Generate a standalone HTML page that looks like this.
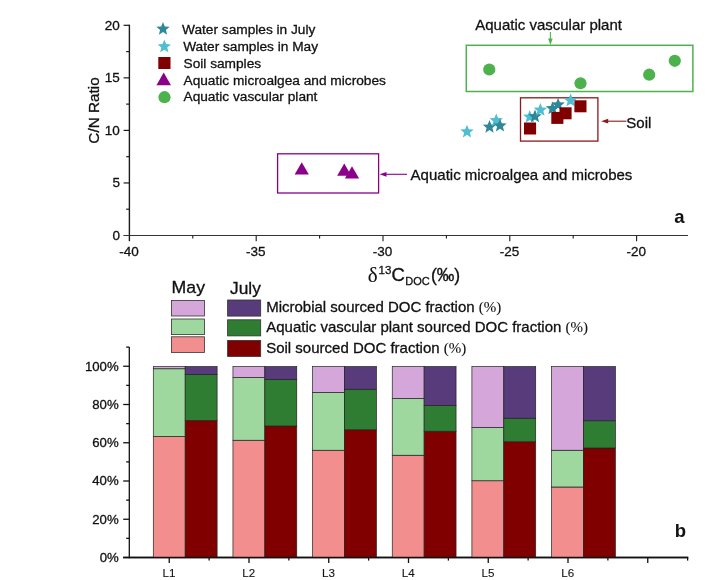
<!DOCTYPE html>
<html lang="en"><head><meta charset="utf-8"><title>Figure</title>
<style>
html,body{margin:0;padding:0;background:#fff;}
body{width:728px;height:580px;overflow:hidden;}
svg{display:block;font-family:"Liberation Sans", Arial, Helvetica, sans-serif;fill:#111;}
text{stroke:#111;stroke-width:0.3px;}
.thin text{stroke-width:0.1px;}
text.ns{stroke:none;}
.ser{font-family:"Liberation Serif", "Times New Roman", serif;stroke-width:0.1px;}
</style></head><body>
<svg width="728" height="580" viewBox="0 0 728 580">
<rect width="728" height="580" fill="#fff"/>
<g stroke="#1a1a1a" fill="none">
<line x1="129.4" y1="24.70" x2="129.4" y2="241.2" stroke-width="1.4"/>
<line x1="123.4" y1="235.5" x2="688" y2="235.5" stroke-width="1.0" stroke="#333"/>
<line x1="123.6" y1="182.95" x2="129.4" y2="182.95" stroke-width="1.2"/>
<line x1="123.6" y1="130.40" x2="129.4" y2="130.40" stroke-width="1.2"/>
<line x1="123.6" y1="77.85" x2="129.4" y2="77.85" stroke-width="1.2"/>
<line x1="123.6" y1="25.30" x2="129.4" y2="25.30" stroke-width="1.2"/>
<line x1="126.2" y1="209.22" x2="129.4" y2="209.22" stroke-width="1.2"/>
<line x1="126.2" y1="156.68" x2="129.4" y2="156.68" stroke-width="1.2"/>
<line x1="126.2" y1="104.12" x2="129.4" y2="104.12" stroke-width="1.2"/>
<line x1="126.2" y1="51.58" x2="129.4" y2="51.58" stroke-width="1.2"/>
<line x1="256.20" y1="235.5" x2="256.20" y2="241.2" stroke-width="1.1"/>
<line x1="383.00" y1="235.5" x2="383.00" y2="241.2" stroke-width="1.1"/>
<line x1="509.80" y1="235.5" x2="509.80" y2="241.2" stroke-width="1.1"/>
<line x1="636.60" y1="235.5" x2="636.60" y2="241.2" stroke-width="1.1"/>
<line x1="192.80" y1="235.5" x2="192.80" y2="238.6" stroke-width="1.1"/>
<line x1="319.60" y1="235.5" x2="319.60" y2="238.6" stroke-width="1.1"/>
<line x1="446.40" y1="235.5" x2="446.40" y2="238.6" stroke-width="1.1"/>
<line x1="573.20" y1="235.5" x2="573.20" y2="238.6" stroke-width="1.1"/>
</g>
<g font-size="13.5">
<text x="119.9" y="240.00" text-anchor="end">0</text>
<text x="119.9" y="187.45" text-anchor="end">5</text>
<text x="119.9" y="134.90" text-anchor="end">10</text>
<text x="119.9" y="82.35" text-anchor="end">15</text>
<text x="119.9" y="29.80" text-anchor="end">20</text>
<text x="129.00" y="255.6" text-anchor="middle">-40</text>
<text x="255.80" y="255.6" text-anchor="middle">-35</text>
<text x="382.60" y="255.6" text-anchor="middle">-30</text>
<text x="509.40" y="255.6" text-anchor="middle">-25</text>
<text x="636.20" y="255.6" text-anchor="middle">-20</text>
</g>
<text transform="translate(98.6,110.5) rotate(-90)" font-size="15.3" text-anchor="middle">C/N Ratio</text>
<text x="367.8" y="281.3" font-size="18.5"><tspan class="ser" font-size="21" dy="0.5">δ</tspan><tspan font-size="11.5" dy="-8.1" dx="0.8">13</tspan><tspan dy="7.6" dx="0.3">C</tspan><tspan font-size="11" dy="4.1" dx="0.3">DOC</tspan><tspan dy="-4.1" dx="1.2" font-size="17.6">(‰)</tspan></text>
<polygon points="163.00,22.00 164.81,26.51 169.66,26.84 165.93,29.95 167.11,34.66 163.00,32.08 158.89,34.66 160.07,29.95 156.34,26.84 161.19,26.51" fill="#2E8898"/>
<polygon points="164.30,39.60 166.11,44.11 170.96,44.44 167.23,47.55 168.41,52.26 164.30,49.68 160.19,52.26 161.37,47.55 157.64,44.44 162.49,44.11" fill="#4FBDD2"/>
<rect x="158.3" y="57" width="12.2" height="12" fill="#800000"/>
<polygon points="163.70,72.60 170.95,85.16 156.45,85.16" fill="#8B008B"/>
<circle cx="164.5" cy="97.2" r="6.1" fill="#4DB24D"/>
<g font-size="13.7">
<text x="182" y="33.5">Water samples in July</text>
<text x="183.2" y="51">Water samples in May</text>
<text x="183.5" y="67.8">Soil samples</text>
<text x="183.5" y="84.6">Aquatic microalgea and microbes</text>
<text x="183.5" y="101">Aquatic vascular plant</text>
</g>
<rect x="277.6" y="153.8" width="101" height="39.2" fill="none" stroke="#8B008B" stroke-width="1.3"/>
<rect x="466.3" y="45.3" width="226.6" height="46.2" fill="none" stroke="#4DB24D" stroke-width="1.5"/>
<rect x="520.5" y="97.8" width="77.4" height="43.3" fill="none" stroke="#8B1A1A" stroke-width="1.3"/>
<polygon points="467.00,124.75 468.81,129.26 473.66,129.59 469.93,132.70 471.11,137.41 467.00,134.83 462.89,137.41 464.07,132.70 460.34,129.59 465.19,129.26" fill="#4FBDD2"/>
<polygon points="489.50,120.00 491.31,124.51 496.16,124.84 492.43,127.95 493.61,132.66 489.50,130.08 485.39,132.66 486.57,127.95 482.84,124.84 487.69,124.51" fill="#2E8898"/>
<polygon points="496.25,113.50 498.06,118.01 502.91,118.34 499.18,121.45 500.36,126.16 496.25,123.58 492.14,126.16 493.32,121.45 489.59,118.34 494.44,118.01" fill="#4FBDD2"/>
<polygon points="500.00,118.75 501.81,123.26 506.66,123.59 502.93,126.70 504.11,131.41 500.00,128.83 495.89,131.41 497.07,126.70 493.34,123.59 498.19,123.26" fill="#2E8898"/>
<polygon points="529.75,109.90 531.56,114.41 536.41,114.74 532.68,117.85 533.86,122.56 529.75,119.98 525.64,122.56 526.82,117.85 523.09,114.74 527.94,114.41" fill="#4FBDD2"/>
<polygon points="535.00,109.50 536.81,114.01 541.66,114.34 537.93,117.45 539.11,122.16 535.00,119.58 530.89,122.16 532.07,117.45 528.34,114.34 533.19,114.01" fill="#2E8898"/>
<polygon points="540.40,103.00 542.21,107.51 547.06,107.84 543.33,110.95 544.51,115.66 540.40,113.08 536.29,115.66 537.47,110.95 533.74,107.84 538.59,107.51" fill="#4FBDD2"/>
<polygon points="552.50,101.50 554.31,106.01 559.16,106.34 555.43,109.45 556.61,114.16 552.50,111.58 548.39,114.16 549.57,109.45 545.84,106.34 550.69,106.01" fill="#2E8898"/>
<polygon points="558.10,97.75 559.91,102.26 564.76,102.59 561.03,105.70 562.21,110.41 558.10,107.83 553.99,110.41 555.17,105.70 551.44,102.59 556.29,102.26" fill="#2E8898"/>
<polygon points="570.60,93.60 572.41,98.11 577.26,98.44 573.53,101.55 574.71,106.26 570.60,103.68 566.49,106.26 567.67,101.55 563.94,98.44 568.79,98.11" fill="#4FBDD2"/>
<rect x="524" y="122.5" width="12.1" height="12" fill="#800000"/>
<rect x="551.3" y="111.9" width="12.1" height="12" fill="#800000"/>
<rect x="559.5" y="107.3" width="12.1" height="12" fill="#800000"/>
<rect x="574.4" y="100.3" width="12.1" height="12" fill="#800000"/>
<polygon points="301.75,162.20 308.85,174.50 294.65,174.50" fill="#8B008B"/>
<polygon points="344.25,163.50 351.35,175.80 337.15,175.80" fill="#8B008B"/>
<polygon points="352.00,166.20 359.10,178.50 344.90,178.50" fill="#8B008B"/>
<circle cx="489.25" cy="69.5" r="6.1" fill="#4DB24D"/>
<circle cx="580.5" cy="83.25" r="6.1" fill="#4DB24D"/>
<circle cx="649.2" cy="74.7" r="6.1" fill="#4DB24D"/>
<circle cx="674.8" cy="60.8" r="6.1" fill="#4DB24D"/>
<line x1="383" y1="174.3" x2="407" y2="174.3" stroke="#8B008B" stroke-width="1.1"/><polygon points="379.6,174.3 386.5,171.9 386.5,176.7" fill="#8B008B"/>
<line x1="604" y1="121.2" x2="626.4" y2="121.2" stroke="#8B1A1A" stroke-width="1.1"/><polygon points="601.2,121.2 608.2,118.8 608.2,123.6" fill="#8B1A1A"/>
<line x1="550.4" y1="32" x2="550.4" y2="41" stroke="#4DB24D" stroke-width="1.1"/><polygon points="550.4,45 548.1,38.6 552.7,38.6" fill="#4DB24D"/>
<g font-size="15">
<text x="410.6" y="179.8">Aquatic microalgea and microbes</text>
<text x="475.2" y="29.6">Aquatic vascular plant</text>
<text x="626.3" y="127.6">Soil</text>
</g>
<text x="674.3" y="223.2" font-size="18.5" font-weight="bold" class="ns">a</text>
<g stroke="#111" fill="none" stroke-width="1.3">
<line x1="129.3" y1="347" x2="129.3" y2="558.2"/>
<line x1="123.2" y1="557.5" x2="688.2" y2="557.5"/>
<line x1="123.2" y1="519.25" x2="129.3" y2="519.25"/>
<line x1="123.2" y1="481.00" x2="129.3" y2="481.00"/>
<line x1="123.2" y1="442.75" x2="129.3" y2="442.75"/>
<line x1="123.2" y1="404.50" x2="129.3" y2="404.50"/>
<line x1="123.2" y1="366.25" x2="129.3" y2="366.25"/>
<line x1="126.2" y1="538.38" x2="129.3" y2="538.38"/>
<line x1="126.2" y1="500.12" x2="129.3" y2="500.12"/>
<line x1="126.2" y1="461.88" x2="129.3" y2="461.88"/>
<line x1="126.2" y1="423.62" x2="129.3" y2="423.62"/>
<line x1="126.2" y1="385.38" x2="129.3" y2="385.38"/>
<line x1="126.2" y1="347.12" x2="129.3" y2="347.12"/>
<line x1="169.25" y1="557.5" x2="169.25" y2="563"/>
<line x1="209.12" y1="557.5" x2="209.12" y2="560.6"/>
<line x1="249.00" y1="557.5" x2="249.00" y2="563"/>
<line x1="288.88" y1="557.5" x2="288.88" y2="560.6"/>
<line x1="328.75" y1="557.5" x2="328.75" y2="563"/>
<line x1="368.62" y1="557.5" x2="368.62" y2="560.6"/>
<line x1="408.50" y1="557.5" x2="408.50" y2="563"/>
<line x1="448.38" y1="557.5" x2="448.38" y2="560.6"/>
<line x1="488.25" y1="557.5" x2="488.25" y2="563"/>
<line x1="528.12" y1="557.5" x2="528.12" y2="560.6"/>
<line x1="568.00" y1="557.5" x2="568.00" y2="563"/>
<line x1="607.88" y1="557.5" x2="607.88" y2="560.6"/>
<line x1="647.75" y1="557.5" x2="647.75" y2="563"/>
<line x1="687.62" y1="557.5" x2="687.62" y2="560.6"/>
</g>
<g font-size="13.2">
<text x="118.7" y="561.80" text-anchor="end">0%</text>
<text x="118.7" y="523.55" text-anchor="end">20%</text>
<text x="118.7" y="485.30" text-anchor="end">40%</text>
<text x="118.7" y="447.05" text-anchor="end">60%</text>
<text x="118.7" y="408.80" text-anchor="end">80%</text>
<text x="118.7" y="370.55" text-anchor="end">100%</text>
</g>
<g font-size="11.6" text-anchor="middle" class="thin">
<text x="169.00" y="576.9">L1</text>
<text x="248.75" y="576.9">L2</text>
<text x="328.50" y="576.9">L3</text>
<text x="408.25" y="576.9">L4</text>
<text x="488.00" y="576.9">L5</text>
<text x="567.75" y="576.9">L6</text>
</g>
<g stroke="#222" stroke-width="0.7">
<rect x="153.30" y="436.5" width="31.9" height="121.00" fill="#F28E8E"/>
<rect x="153.30" y="368.75" width="31.9" height="67.75" fill="#9ED89E"/>
<rect x="153.30" y="366.6" width="31.9" height="2.15" fill="#D4A6DA"/>
<rect x="185.20" y="420.5" width="31.9" height="137.00" fill="#800000"/>
<rect x="185.20" y="374.5" width="31.9" height="46.00" fill="#2E7D32"/>
<rect x="185.20" y="366.6" width="31.9" height="7.90" fill="#573B7A"/>
<rect x="232.95" y="440.25" width="31.9" height="117.25" fill="#F28E8E"/>
<rect x="232.95" y="377.5" width="31.9" height="62.75" fill="#9ED89E"/>
<rect x="232.95" y="366.6" width="31.9" height="10.90" fill="#D4A6DA"/>
<rect x="264.85" y="426" width="31.9" height="131.50" fill="#800000"/>
<rect x="264.85" y="379.5" width="31.9" height="46.50" fill="#2E7D32"/>
<rect x="264.85" y="366.6" width="31.9" height="12.90" fill="#573B7A"/>
<rect x="312.60" y="450.25" width="31.9" height="107.25" fill="#F28E8E"/>
<rect x="312.60" y="392.5" width="31.9" height="57.75" fill="#9ED89E"/>
<rect x="312.60" y="366.6" width="31.9" height="25.90" fill="#D4A6DA"/>
<rect x="344.50" y="429.75" width="31.9" height="127.75" fill="#800000"/>
<rect x="344.50" y="389.25" width="31.9" height="40.50" fill="#2E7D32"/>
<rect x="344.50" y="366.6" width="31.9" height="22.65" fill="#573B7A"/>
<rect x="392.25" y="455.25" width="31.9" height="102.25" fill="#F28E8E"/>
<rect x="392.25" y="398.5" width="31.9" height="56.75" fill="#9ED89E"/>
<rect x="392.25" y="366.6" width="31.9" height="31.90" fill="#D4A6DA"/>
<rect x="424.15" y="431.25" width="31.9" height="126.25" fill="#800000"/>
<rect x="424.15" y="405.5" width="31.9" height="25.75" fill="#2E7D32"/>
<rect x="424.15" y="366.6" width="31.9" height="38.90" fill="#573B7A"/>
<rect x="471.90" y="480.75" width="31.9" height="76.75" fill="#F28E8E"/>
<rect x="471.90" y="427.5" width="31.9" height="53.25" fill="#9ED89E"/>
<rect x="471.90" y="366.6" width="31.9" height="60.90" fill="#D4A6DA"/>
<rect x="503.80" y="441.75" width="31.9" height="115.75" fill="#800000"/>
<rect x="503.80" y="418.25" width="31.9" height="23.50" fill="#2E7D32"/>
<rect x="503.80" y="366.6" width="31.9" height="51.65" fill="#573B7A"/>
<rect x="551.55" y="487" width="31.9" height="70.50" fill="#F28E8E"/>
<rect x="551.55" y="450.25" width="31.9" height="36.75" fill="#9ED89E"/>
<rect x="551.55" y="366.6" width="31.9" height="83.65" fill="#D4A6DA"/>
<rect x="583.45" y="448" width="31.9" height="109.50" fill="#800000"/>
<rect x="583.45" y="420.75" width="31.9" height="27.25" fill="#2E7D32"/>
<rect x="583.45" y="366.6" width="31.9" height="54.15" fill="#573B7A"/>
</g>
<line x1="123.2" y1="557.5" x2="688.2" y2="557.5" stroke="#111" stroke-width="1.4"/>
<g stroke="#333" stroke-width="0.8">
<rect x="171.4" y="300.4" width="33" height="15.6" fill="#D4A6DA"/>
<rect x="171.4" y="319" width="33" height="15.6" fill="#9ED89E"/>
<rect x="171.4" y="336.8" width="33" height="15.6" fill="#F28E8E"/>
<rect x="227.6" y="300" width="33.1" height="16.1" fill="#573B7A"/>
<rect x="227.6" y="319.8" width="33.1" height="16.1" fill="#2E7D32"/>
<rect x="227.6" y="340.4" width="33.1" height="16.1" fill="#800000"/>
</g>
<text x="171.6" y="292.8" font-size="17" textLength="33.4" lengthAdjust="spacingAndGlyphs">May</text>
<text x="230" y="293.6" font-size="16.6" textLength="30.8" lengthAdjust="spacingAndGlyphs">July</text>
<g font-size="15">
<text x="266.2" y="312" font-size="15">Microbial sourced DOC fraction <tspan class="ser">(%)</tspan></text>
<text x="266.2" y="332.2" font-size="15.0">Aquatic vascular plant sourced DOC fraction <tspan class="ser">(%)</tspan></text>
<text x="266.2" y="352.6" font-size="15.0">Soil sourced DOC fraction <tspan class="ser">(%)</tspan></text>
</g>
<text x="674.8" y="537.3" font-size="18.5" font-weight="bold" class="ns">b</text>
</svg></body></html>
